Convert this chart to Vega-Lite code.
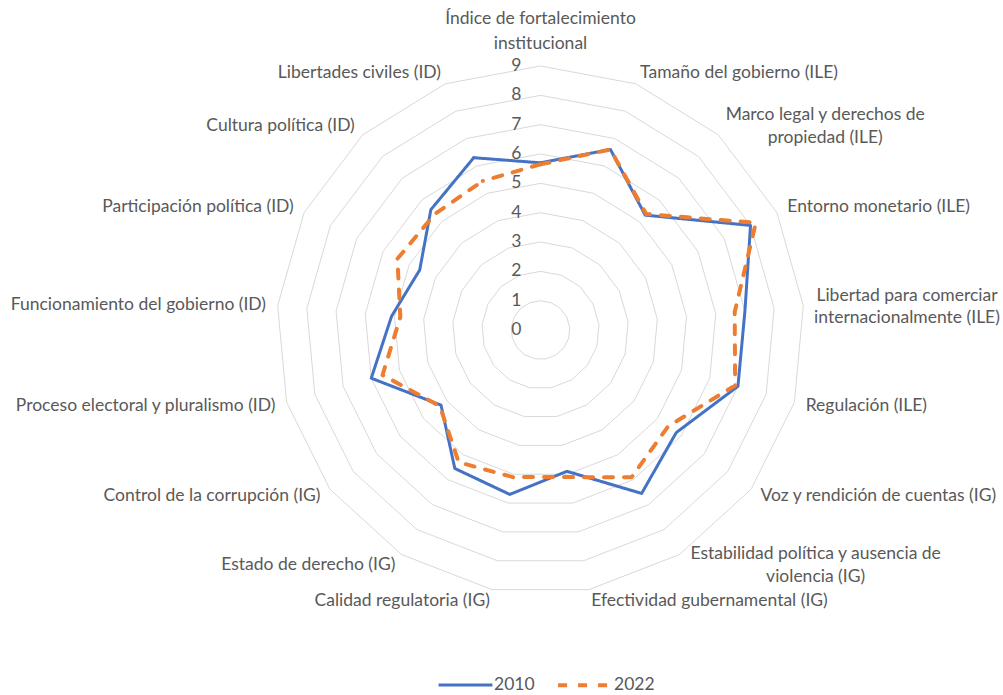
{
  "$schema": "https://vega.github.io/schema/vega-lite/v6.json",
  "width": 1003,
  "height": 695,
  "autosize": "none",
  "padding": 0,
  "background": "white",
  "config": {"view": {"stroke": null}, "font": "Lato"},
  "data": {
    "values": [
      {"k": 0, "categoria": "Índice de fortalecimiento\ninstitucional", "2010": 5.7, "2022": 5.65},
      {"k": 1, "categoria": "Tamaño del gobierno (ILE)", "2010": 6.6, "2022": 6.6},
      {"k": 2, "categoria": "Marco legal y derechos de\npropiedad (ILE)", "2010": 5.3, "2022": 5.35},
      {"k": 3, "categoria": "Entorno monetario (ILE)", "2010": 8.0, "2022": 8.2},
      {"k": 4, "categoria": "Libertad para comerciar\ninternacionalmente (ILE)", "2010": 7.0, "2022": 6.65},
      {"k": 5, "categoria": "Regulación (ILE)", "2010": 7.0, "2022": 6.9},
      {"k": 6, "categoria": "Voz y rendición de cuentas (IG)", "2010": 5.8, "2022": 5.45},
      {"k": 7, "categoria": "Estabilidad política y ausencia de\nviolencia (IG)", "2010": 6.55, "2022": 5.9},
      {"k": 8, "categoria": "Efectividad gubernamental (IG)", "2010": 4.9, "2022": 5.1},
      {"k": 9, "categoria": "Calidad regulatoria (IG)", "2010": 5.7, "2022": 5.1},
      {"k": 10, "categoria": "Estado de derecho (IG)", "2010": 5.55, "2022": 5.3},
      {"k": 11, "categoria": "Control de la corrupción (IG)", "2010": 4.25, "2022": 4.3},
      {"k": 12, "categoria": "Proceso electoral y pluralismo (ID)", "2010": 6.0, "2022": 5.6},
      {"k": 13, "categoria": "Funcionamiento del gobierno (ID)", "2010": 5.1, "2022": 4.8},
      {"k": 14, "categoria": "Participación política (ID)", "2010": 4.6, "2022": 5.45},
      {"k": 15, "categoria": "Cultura política (ID)", "2010": 5.55, "2022": 5.35},
      {"k": 16, "categoria": "Libertades civiles (ID)", "2010": 6.3, "2022": 5.45}
    ]
  },
  "layer": [
    {
      "data": {
        "values": [
          {"ring": 1, "k": [0,1,2,3,4,5,6,7,8,9,10,11,12,13,14,15,16,17]},
          {"ring": 2, "k": [0,1,2,3,4,5,6,7,8,9,10,11,12,13,14,15,16,17]},
          {"ring": 3, "k": [0,1,2,3,4,5,6,7,8,9,10,11,12,13,14,15,16,17]},
          {"ring": 4, "k": [0,1,2,3,4,5,6,7,8,9,10,11,12,13,14,15,16,17]},
          {"ring": 5, "k": [0,1,2,3,4,5,6,7,8,9,10,11,12,13,14,15,16,17]},
          {"ring": 6, "k": [0,1,2,3,4,5,6,7,8,9,10,11,12,13,14,15,16,17]},
          {"ring": 7, "k": [0,1,2,3,4,5,6,7,8,9,10,11,12,13,14,15,16,17]},
          {"ring": 8, "k": [0,1,2,3,4,5,6,7,8,9,10,11,12,13,14,15,16,17]},
          {"ring": 9, "k": [0,1,2,3,4,5,6,7,8,9,10,11,12,13,14,15,16,17]}
        ]
      },
      "transform": [
        {"flatten": ["k"]},
        {"calculate": "datum.k*2*PI/17", "as": "a"},
        {"calculate": "datum.ring*sin(datum.a)", "as": "x"},
        {"calculate": "datum.ring*cos(datum.a)", "as": "y"}
      ],
      "mark": {"type": "line", "stroke": "#d9d9d9", "strokeWidth": 1},
      "encoding": {
        "x": {"field": "x", "type": "quantitative", "scale": {"domain": [-18.43, 15.77], "nice": false, "zero": false}, "axis": null},
        "y": {"field": "y", "type": "quantitative", "scale": {"domain": [-12.44, 11.25], "nice": false, "zero": false}, "axis": null},
        "detail": {"field": "ring", "type": "nominal"},
        "order": {"field": "k", "type": "quantitative"}
      }
    },
    {
      "transform": [
        {"calculate": "datum.k*2*PI/17", "as": "a"},
        {"fold": ["2010", "2022"], "as": ["serie", "valor"]},
        {"calculate": "datum.valor*sin(datum.a)", "as": "x"},
        {"calculate": "datum.valor*cos(datum.a)", "as": "y"}
      ],
      "mark": {"type": "line", "strokeCap": "round", "strokeJoin": "round"},
      "encoding": {
        "x": {"field": "x", "type": "quantitative"},
        "y": {"field": "y", "type": "quantitative"},
        "order": {"field": "k", "type": "quantitative"},
        "color": {"field": "serie", "type": "nominal", "scale": {"domain": ["2010", "2022"], "range": ["#4472C4", "#ED7D31"]},
          "legend": {"orient": "none", "legendX": 437, "legendY": 656, "padding": 0, "direction": "horizontal", "title": null, "symbolType": "stroke", "symbolSize": 2900, "labelFontSize": 17.5, "labelColor": "#595959", "labelFont": "Lato", "columnPadding": 15, "labelOffset": 0}},
        "strokeDash": {"field": "serie", "type": "nominal", "scale": {"domain": ["2010", "2022"], "range": [[1, 0], [9, 11]]},
          "legend": {"orient": "none", "legendX": 437, "legendY": 656, "padding": 0, "direction": "horizontal", "title": null, "symbolType": "stroke", "symbolSize": 2900, "labelFontSize": 17.5, "labelColor": "#595959", "labelFont": "Lato", "columnPadding": 15, "labelOffset": 0}},
        "strokeWidth": {"field": "serie", "type": "nominal", "scale": {"domain": ["2010", "2022"], "range": [3, 4]},
          "legend": {"orient": "none", "legendX": 437, "legendY": 656, "padding": 0, "direction": "horizontal", "title": null, "symbolType": "stroke", "symbolSize": 2900, "labelFontSize": 17.5, "labelColor": "#595959", "labelFont": "Lato", "columnPadding": 15, "labelOffset": 0}}
      }
    },
    {
      "transform": [
        {"filter": "datum.k == 0 || datum.k == 16"},
        {"calculate": "datum.k*2*PI/17", "as": "a"},
        {"fold": ["2010", "2022"], "as": ["serie", "valor"]},
        {"calculate": "datum.valor*sin(datum.a)", "as": "x"},
        {"calculate": "datum.valor*cos(datum.a)", "as": "y"}
      ],
      "mark": {"type": "line", "strokeCap": "round", "strokeJoin": "round"},
      "encoding": {
        "x": {"field": "x", "type": "quantitative"},
        "y": {"field": "y", "type": "quantitative"},
        "order": {"field": "k", "type": "quantitative"},
        "color": {"field": "serie", "type": "nominal", "scale": {"domain": ["2010", "2022"], "range": ["#4472C4", "#ED7D31"]},
          "legend": {"orient": "none", "legendX": 437, "legendY": 656, "padding": 0, "direction": "horizontal", "title": null, "symbolType": "stroke", "symbolSize": 2900, "labelFontSize": 17.5, "labelColor": "#595959", "labelFont": "Lato", "columnPadding": 15, "labelOffset": 0}},
        "strokeDash": {"field": "serie", "type": "nominal", "scale": {"domain": ["2010", "2022"], "range": [[1, 0], [9, 11]]},
          "legend": {"orient": "none", "legendX": 437, "legendY": 656, "padding": 0, "direction": "horizontal", "title": null, "symbolType": "stroke", "symbolSize": 2900, "labelFontSize": 17.5, "labelColor": "#595959", "labelFont": "Lato", "columnPadding": 15, "labelOffset": 0}},
        "strokeWidth": {"field": "serie", "type": "nominal", "scale": {"domain": ["2010", "2022"], "range": [3, 4]},
          "legend": {"orient": "none", "legendX": 437, "legendY": 656, "padding": 0, "direction": "horizontal", "title": null, "symbolType": "stroke", "symbolSize": 2900, "labelFontSize": 17.5, "labelColor": "#595959", "labelFont": "Lato", "columnPadding": 15, "labelOffset": 0}}
      }
    },
    {
      "data": {"values": [{"t": 0}, {"t": 1}, {"t": 2}, {"t": 3}, {"t": 4}, {"t": 5}, {"t": 6}, {"t": 7}, {"t": 8}, {"t": 9}]},
      "mark": {"type": "text", "align": "right", "baseline": "middle", "dx": -19, "fontSize": 17.5, "color": "#595959", "font": "Lato"},
      "encoding": {
        "x": {"datum": 0, "type": "quantitative"},
        "y": {"field": "t", "type": "quantitative"},
        "text": {"field": "t", "type": "quantitative"}
      }
    },
    {
      "transform": [
        {"filter": "datum.k == 1 || datum.k == 3 || datum.k == 5 || datum.k == 6 || datum.k == 8"},
        {"calculate": "datum.k*2*PI/17", "as": "a"},
        {"calculate": "9.4*sin(datum.a)", "as": "x"},
        {"calculate": "9.4*cos(datum.a)", "as": "y"}
      ],
      "mark": {"type": "text", "align": "left", "baseline": "middle", "fontSize": 17.5, "color": "#595959", "font": "Lato"},
      "encoding": {
        "x": {"field": "x", "type": "quantitative"},
        "y": {"field": "y", "type": "quantitative"},
        "text": {"field": "categoria", "type": "nominal"}
      }
    },
    {
      "transform": [
        {"filter": "datum.k >= 9"},
        {"calculate": "datum.k*2*PI/17", "as": "a"},
        {"calculate": "9.4*sin(datum.a)", "as": "x"},
        {"calculate": "9.4*cos(datum.a)", "as": "y"}
      ],
      "mark": {"type": "text", "align": "right", "baseline": "middle", "fontSize": 17.5, "color": "#595959", "font": "Lato"},
      "encoding": {
        "x": {"field": "x", "type": "quantitative"},
        "y": {"field": "y", "type": "quantitative"},
        "text": {"field": "categoria", "type": "nominal"}
      }
    },
    {
      "transform": [
        {"filter": "datum.k == 0"},
        {"calculate": "datum.k*2*PI/17", "as": "a"},
        {"calculate": "9.4*sin(datum.a)", "as": "x"},
        {"calculate": "9.4*cos(datum.a)", "as": "y"}
      ],
      "mark": {"type": "text", "align": "center", "baseline": "bottom", "dy": -26, "fontSize": 17.5, "lineHeight": 25, "lineBreak": "\n", "color": "#595959", "font": "Lato"},
      "encoding": {
        "x": {"field": "x", "type": "quantitative"},
        "y": {"field": "y", "type": "quantitative"},
        "text": {"field": "categoria", "type": "nominal"}
      }
    },
    {
      "transform": [
        {"filter": "datum.k == 2"},
        {"calculate": "datum.k*2*PI/17", "as": "a"},
        {"calculate": "9.4*sin(datum.a)", "as": "x"},
        {"calculate": "9.4*cos(datum.a)", "as": "y"}
      ],
      "mark": {"type": "text", "align": "center", "baseline": "middle", "dx": 99, "dy": -11, "fontSize": 17.5, "lineHeight": 23, "lineBreak": "\n", "color": "#595959", "font": "Lato"},
      "encoding": {
        "x": {"field": "x", "type": "quantitative"},
        "y": {"field": "y", "type": "quantitative"},
        "text": {"field": "categoria", "type": "nominal"}
      }
    },
    {
      "transform": [
        {"filter": "datum.k == 4"},
        {"calculate": "datum.k*2*PI/17", "as": "a"},
        {"calculate": "9.4*sin(datum.a)", "as": "x"},
        {"calculate": "9.4*cos(datum.a)", "as": "y"}
      ],
      "mark": {"type": "text", "align": "center", "baseline": "middle", "dx": 92, "dy": -9, "fontSize": 17.5, "lineHeight": 22, "lineBreak": "\n", "color": "#595959", "font": "Lato"},
      "encoding": {
        "x": {"field": "x", "type": "quantitative"},
        "y": {"field": "y", "type": "quantitative"},
        "text": {"field": "categoria", "type": "nominal"}
      }
    },
    {
      "transform": [
        {"filter": "datum.k == 7"},
        {"calculate": "datum.k*2*PI/17", "as": "a"},
        {"calculate": "9.4*sin(datum.a)", "as": "x"},
        {"calculate": "9.4*cos(datum.a)", "as": "y"}
      ],
      "mark": {"type": "text", "align": "center", "baseline": "middle", "dx": 130, "dy": -11, "fontSize": 17.5, "lineHeight": 23, "lineBreak": "\n", "color": "#595959", "font": "Lato"},
      "encoding": {
        "x": {"field": "x", "type": "quantitative"},
        "y": {"field": "y", "type": "quantitative"},
        "text": {"field": "categoria", "type": "nominal"}
      }
    }
  ]
}
